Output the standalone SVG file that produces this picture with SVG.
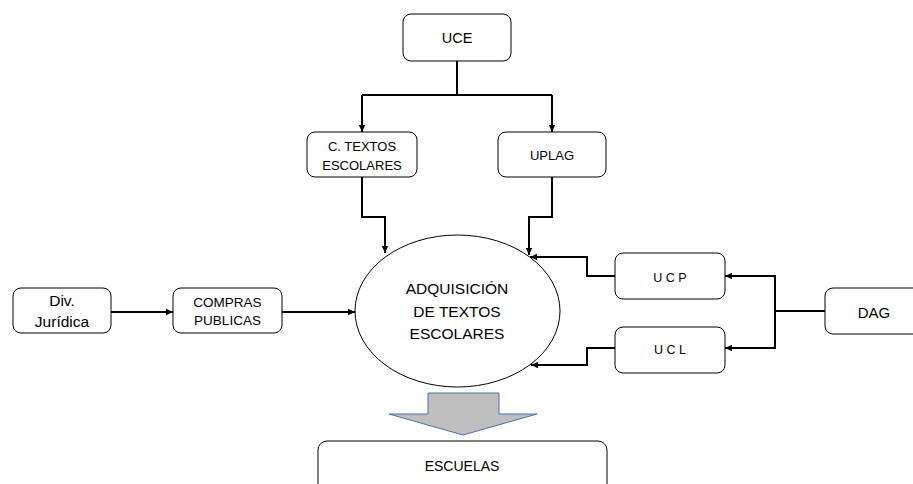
<svg xmlns="http://www.w3.org/2000/svg" width="913" height="484" viewBox="0 0 913 484">
  <defs>
    <marker id="arrow" markerUnits="userSpaceOnUse" markerWidth="8" markerHeight="8" refX="7" refY="4" orient="auto">
      <path d="M0,0.8 L7,4 L0,7.2 Z" fill="#000"/>
    </marker>
    <style>
      .box { fill: #fff; stroke: #000; stroke-width: 1; }
      .link { fill: none; stroke: #000; stroke-width: 2; marker-end: url(#arrow); }
      .plain { fill: none; stroke: #000; stroke-width: 2; }
      text { font-family: "Liberation Sans", Arial, sans-serif; fill: #000; text-anchor: middle; }
    </style>
  </defs>
  <rect width="913" height="484" fill="#fff"/>

  <!-- connectors -->
  <g id="connectors">
    <path class="plain" d="M457,61 V95 M362,95 H552"/>
    <path class="link" d="M362,95 V132"/>
    <path class="link" d="M552,95 V132"/>
    <path class="link" d="M362,177 V217 H385 V253"/>
    <path class="link" d="M552,177 V217 H529 V255"/>
    <path class="link" d="M111,312 H173"/>
    <path class="link" d="M282,312 H355"/>
    <path class="link" d="M615,276 H587 V257 H530"/>
    <path class="link" d="M615,348 H587 V365 H531"/>
    <path class="plain" d="M825,311 H775 M775,276 V348"/>
    <path class="link" d="M776,276 H725"/>
    <path class="link" d="M776,348 H725"/>
  </g>

  <g id="uce">
    <rect class="box" x="403" y="14" width="108" height="47" rx="8"/>
    <text x="457" y="43" font-size="14.5">UCE</text>
  </g>
  <g id="textos-escolares">
    <rect class="box" x="307" y="132" width="110" height="45" rx="8"/>
    <text x="362" y="151" font-size="13">C. TEXTOS</text>
    <text x="362" y="170" font-size="13">ESCOLARES</text>
  </g>
  <g id="uplag">
    <rect class="box" x="498" y="132" width="108" height="45" rx="8"/>
    <text x="552" y="160" font-size="13">UPLAG</text>
  </g>
  <g id="div-juridica">
    <rect class="box" x="13" y="288" width="98" height="45" rx="8"/>
    <text x="62" y="306" font-size="15.5">Div.</text>
    <text x="62" y="327" font-size="15.5">Jurídica</text>
  </g>
  <g id="compras-publicas">
    <rect class="box" x="173" y="288" width="109" height="45" rx="8"/>
    <text x="227.5" y="307" font-size="13.5">COMPRAS</text>
    <text x="227.5" y="325" font-size="13.5">PUBLICAS</text>
  </g>
  <g id="adquisicion">
    <ellipse class="box" cx="457.5" cy="311" rx="102.5" ry="76"/>
    <text x="457" y="294" font-size="15.5">ADQUISICIÓN</text>
    <text x="457" y="317" font-size="15.5">DE TEXTOS</text>
    <text x="457" y="339" font-size="15.5">ESCOLARES</text>
  </g>
  <g id="ucp">
    <rect class="box" x="615" y="253" width="110" height="46" rx="8"/>
    <text x="670" y="282" font-size="12.5">U C P</text>
  </g>
  <g id="ucl">
    <rect class="box" x="615" y="327" width="110" height="46" rx="8"/>
    <text x="670" y="354" font-size="12.5">U C L</text>
  </g>
  <g id="dag">
    <rect class="box" x="825" y="288" width="100" height="46" rx="8"/>
    <text x="874" y="318" font-size="15">DAG</text>
  </g>
  <g id="flecha-escuelas">
    <path d="M428,393 H499 V414 H537 L463,435 L389,414 H428 Z" fill="#bfbfbf" stroke="#4a6fb0" stroke-width="1"/>
  </g>
  <g id="escuelas">
    <rect class="box" x="318" y="441" width="289" height="60" rx="9"/>
    <text x="462" y="471" font-size="14">ESCUELAS</text>
  </g>
</svg>
